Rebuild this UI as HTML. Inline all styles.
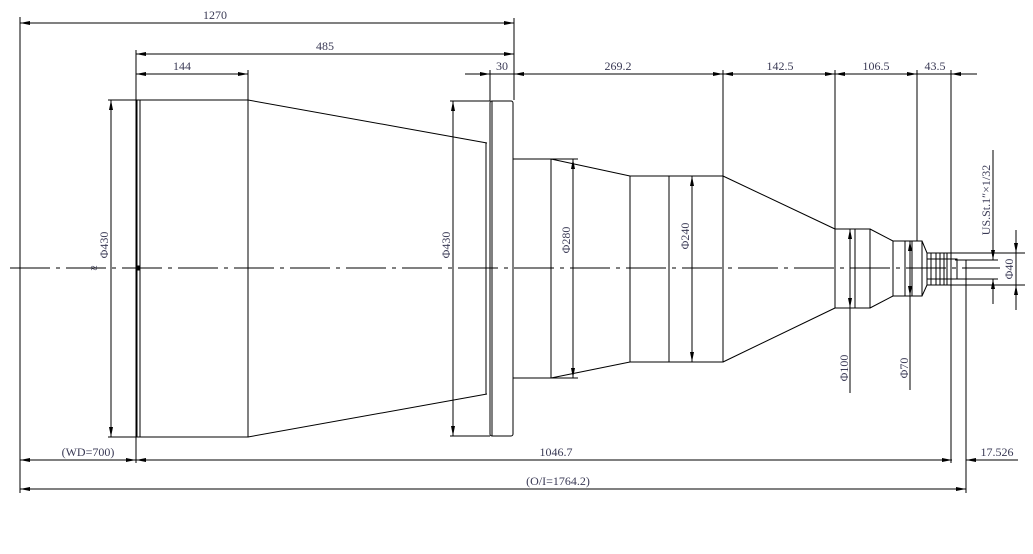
<!DOCTYPE html>
<html><head><meta charset="utf-8"><style>
html,body{margin:0;padding:0;background:#fff;}
svg{display:block;}
text{font-family:"Liberation Serif","Noto Serif CJK SC",serif;font-size:12px;fill:#3a3a55;}
</style></head><body>
<svg width="1033" height="554" viewBox="0 0 1033 554" xmlns="http://www.w3.org/2000/svg">
<defs>
<marker id="a" viewBox="0 0 10 4" refX="10" refY="2" markerWidth="11" markerHeight="4" markerUnits="userSpaceOnUse" orient="auto-start-reverse"><path d="M0,0L10,2L0,4z" fill="#000"/></marker>
</defs>
<g stroke="#000" stroke-width="1" fill="none">
<!-- extension lines -->
<path d="M20,17V493M514,18V100M136,50V463M248,70V100M490,70V101M723,70V176M835,70V229M917,70V241M951,70V463M966,260V493"/>
<!-- top dims -->
<line x1="20" y1="23" x2="514" y2="23" marker-start="url(#a)" marker-end="url(#a)"/>
<line x1="136" y1="54" x2="514" y2="54" marker-start="url(#a)" marker-end="url(#a)"/>
<line x1="136" y1="74" x2="248" y2="74" marker-start="url(#a)" marker-end="url(#a)"/>
<line x1="465" y1="74" x2="977" y2="74"/>
<line x1="478" y1="74" x2="490" y2="74" marker-end="url(#a)"/>
<line x1="514" y1="74" x2="723" y2="74" marker-start="url(#a)" marker-end="url(#a)"/>
<line x1="723" y1="74" x2="835" y2="74" marker-start="url(#a)" marker-end="url(#a)"/>
<line x1="835" y1="74" x2="917" y2="74" marker-start="url(#a)" marker-end="url(#a)"/>
<line x1="963" y1="74" x2="951" y2="74" marker-end="url(#a)"/>
<!-- bottom dims -->
<line x1="20" y1="460" x2="136" y2="460" marker-start="url(#a)" marker-end="url(#a)"/>
<line x1="136" y1="460" x2="952" y2="460" marker-start="url(#a)" marker-end="url(#a)"/>
<line x1="1018" y1="460" x2="966" y2="460" marker-end="url(#a)"/>
<line x1="20" y1="489" x2="966" y2="489" marker-start="url(#a)" marker-end="url(#a)"/>
<!-- vertical diameter dims -->
<path d="M108,100H248M108,437H248M450,101H490M450,436H490M551,159H578M551,378H578"/>
<line x1="111" y1="100" x2="111" y2="437" marker-start="url(#a)" marker-end="url(#a)"/>
<line x1="453" y1="101" x2="453" y2="436" marker-start="url(#a)" marker-end="url(#a)"/>
<line x1="573" y1="159" x2="573" y2="378" marker-start="url(#a)" marker-end="url(#a)"/>
<line x1="692" y1="176" x2="692" y2="362" marker-start="url(#a)" marker-end="url(#a)"/>
<line x1="850" y1="229" x2="850" y2="308" marker-start="url(#a)" marker-end="url(#a)"/>
<line x1="850" y1="308" x2="850" y2="393"/>
<line x1="910" y1="241" x2="910" y2="296" marker-start="url(#a)" marker-end="url(#a)"/>
<line x1="910" y1="296" x2="910" y2="390"/>
<!-- phi40 and thread -->
<path d="M951,253H1025M951,285H1025M955,260H998M955,279H998"/>
<line x1="1016" y1="230" x2="1016" y2="253" marker-end="url(#a)"/>
<line x1="1016" y1="310" x2="1016" y2="285" marker-end="url(#a)"/>
<line x1="1016" y1="253" x2="1016" y2="285"/>
<line x1="993" y1="150" x2="993" y2="260" marker-end="url(#a)"/>
<line x1="993" y1="304" x2="993" y2="279" marker-end="url(#a)"/>
<!-- body -->
<rect x="136" y="100" width="112" height="337"/>
<path d="M137,100V437M140,100V437"/>
<path d="M248,100L487,143M248,437L487,394M486,143V394"/>
<rect x="490" y="101" width="23" height="335" rx="2"/>
<path d="M492,101V436"/>
<path d="M513,159H551V378H513M551,159L630,176M551,378L630,362"/>
<rect x="630" y="176" width="93" height="186"/>
<path d="M669,176V362M723,176L835,229M723,362L835,308"/>
<rect x="835" y="229" width="35" height="79"/>
<path d="M855,229V308M870,229L893,241M870,308L893,296"/>
<rect x="893" y="241" width="29" height="55"/>
<path d="M905,241V296M912,241V296M922,241L927,253M922,296L927,285"/>
<rect x="927" y="253" width="24" height="32"/>
<path d="M931,253V285M936,253V285M940,253V285M944,253V285M947,253V285M927,259H951M927,279H951"/>
<rect x="951" y="259" width="6" height="20"/>
<!-- centre line -->
<line x1="10" y1="268" x2="1000" y2="268" stroke-dasharray="40 6 4 6"/>
<rect x="136" y="266" width="3" height="4" fill="#000"/>
</g>
<text x="215" y="19" text-anchor="middle">1270</text>
<text x="325" y="50" text-anchor="middle">485</text>
<text x="182" y="70" text-anchor="middle">144</text>
<text x="502" y="70" text-anchor="middle">30</text>
<text x="618" y="70" text-anchor="middle">269.2</text>
<text x="780" y="70" text-anchor="middle">142.5</text>
<text x="876" y="70" text-anchor="middle">106.5</text>
<text x="935" y="70" text-anchor="middle">43.5</text>
<text x="88" y="456" text-anchor="middle">(WD=700)</text>
<text x="556" y="456" text-anchor="middle">1046.7</text>
<text x="997" y="456" text-anchor="middle">17.526</text>
<text x="558" y="485" text-anchor="middle">(O/I=1764.2)</text>
<text x="94" y="272" text-anchor="middle">≈</text>
<text transform="translate(108,245) rotate(-90)" text-anchor="middle">Φ430</text>
<text transform="translate(450,245) rotate(-90)" text-anchor="middle">Φ430</text>
<text transform="translate(570,240) rotate(-90)" text-anchor="middle">Φ280</text>
<text transform="translate(689,236) rotate(-90)" text-anchor="middle">Φ240</text>
<text transform="translate(848,368) rotate(-90)" text-anchor="middle">Φ100</text>
<text transform="translate(908,368) rotate(-90)" text-anchor="middle">Φ70</text>
<text transform="translate(1013,269) rotate(-90)" text-anchor="middle">Φ40</text>
<text transform="translate(990,200) rotate(-90)" text-anchor="middle">US.St.1″×1/32</text>
</svg>
</body></html>
